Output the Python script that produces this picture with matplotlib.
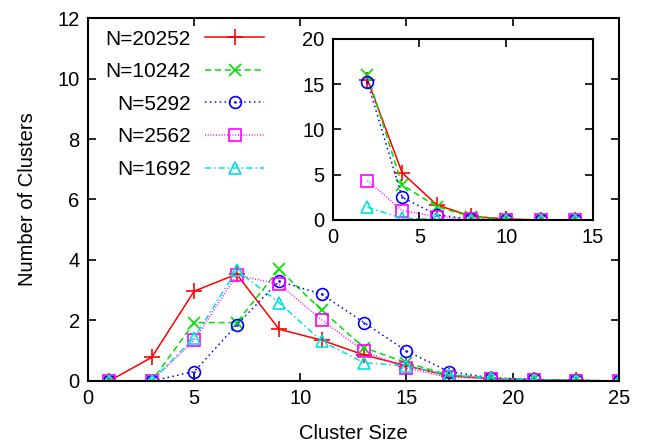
import matplotlib
matplotlib.use("Agg")
import matplotlib.pyplot as plt
from matplotlib.path import Path
import numpy as np

plt.rcParams['font.family'] = ['Liberation Sans', 'DejaVu Sans']

# Main plot data
sizes = [1, 3, 5, 7, 9, 11, 13, 15, 17, 19, 21, 23, 25]
labels = ["N=20252", "N=10242", "N=5292", "N=2562", "N=1692"]
n20252 = [0, 0.78, 2.97, 3.53, 1.71, 1.35, 0.86, 0.5, 0.17, 0.08, 0.04, 0.02, 0]
n10242 = [0, 0, 1.93, 1.93, 3.69, 2.34, 1.1, 0.6, 0.2, 0.1, 0.05, 0.02, 0]
n5292 = [0, 0, 0.31, 1.85, 3.3, 2.87, 1.93, 0.99, 0.31, 0.1, 0.05, 0.02, 0]
n2562 = [0, 0, 1.34, 3.5, 3.2, 2.02, 0.99, 0.42, 0.12, 0.08, 0.03, 0, 0]
n1692 = [0, 0, 1.43, 3.66, 2.59, 1.32, 0.6, 0.5, 0.2, 0.1, 0.04, 0.01, 0]

# Inset data
inset_sizes = [2, 4, 6, 8, 10, 12, 14]
in20252 = [15.5, 5.2, 1.66, 0.4, 0.1, 0, 0]
in10242 = [16.0, 3.87, 1.47, 0.35, 0.05, 0, 0]
in5292 = [15.2, 2.5, 0.55, 0.1, 0, 0, 0]
in2562 = [4.35, 1.03, 0.37, 0.05, 0, 0, 0]
in1692 = [1.4, 0.2, 0.07, 0.02, 0, 0, 0]

circdot = Path.make_compound_path(Path.unit_circle(), Path.circle((0, 0), 0.08))

styles = [
    dict(color='#ff0000', ls='-', marker='+', ms=11, mew=1.2),
    dict(color='#00e000', ls=(0, (4, 2.5)), marker='x', ms=9, mew=1.2),
    dict(color='#0000ff', ls=(0, (1, 2.2)), marker=circdot, ms=8.5, mew=1.2, fillstyle='none'),
    dict(color='#ff00ff', ls=(0, (0.6, 1.2)), marker='s', ms=8.5, mew=1.2, fillstyle='none'),
    dict(color='#00e0e0', ls=(0, (4, 2, 1, 2)), marker='^', ms=8.5, mew=1.2, fillstyle='none'),
]

main_series = [n20252, n10242, n5292, n2562, n1692]
inset_series = [in20252, in10242, in5292, in2562, in1692]

FS = 14.5

fig = plt.figure(figsize=(6.5, 4.47), dpi=100)
ax = fig.add_axes([0.1354, 0.1477, 0.8166, 0.812])

for ys, lab, st in zip(main_series, labels, styles):
    ax.plot(sizes, ys, label=lab, lw=1.1, **st)

ax.set_xlim(0, 25)
ax.set_ylim(0, 12)
ax.set_xticks([0, 5, 10, 15, 20, 25])
ax.set_yticks([0, 2, 4, 6, 8, 10, 12])
ax.tick_params(direction='in', top=True, right=True, length=6, width=1.2, labelsize=FS, pad=6)
for s in ax.spines.values():
    s.set_linewidth(1.5)
ax.set_xlabel("Cluster Size", fontsize=FS, labelpad=11)
ax.set_ylabel("Number of Clusters", fontsize=FS, labelpad=15)

leg = ax.legend(loc='upper right', bbox_to_anchor=(0.331, 0.968), markerfirst=False, frameon=False,
                fontsize=15, handlelength=2.8, handletextpad=0.7, labelspacing=0.65,
                borderaxespad=0, borderpad=0)

axin = fig.add_axes([0.512, 0.508, 0.4, 0.405])
for ys, st in zip(inset_series, styles):
    axin.plot(inset_sizes, ys, lw=1.1, **st)
axin.set_xlim(0, 15)
axin.set_ylim(0, 20)
axin.set_xticks([0, 5, 10, 15])
axin.set_yticks([0, 5, 10, 15, 20])
axin.tick_params(direction='in', top=True, right=True, length=6, width=1.2, labelsize=FS, pad=6)
for s in axin.spines.values():
    s.set_linewidth(1.5)

fig.savefig("out.png", dpi=100)
